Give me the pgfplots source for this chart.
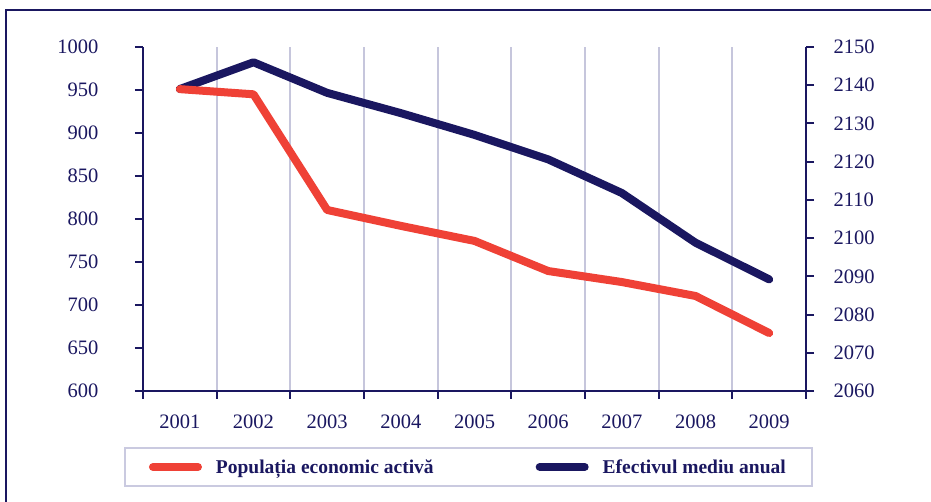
\documentclass[border=0pt]{standalone}
\usepackage{fontspec}
\setmainfont{Liberation Serif}
\usepackage{pgfplots}
\pgfplotsset{compat=1.18}

\definecolor{navy}{HTML}{1A1760}
\definecolor{redline}{HTML}{EF4136}
\definecolor{gridc}{HTML}{C6C6DC}
\definecolor{legbox}{HTML}{CACAE0}

\pgfplotsset{
  common/.style={
    width=663pt, height=344pt, scale only axis,
    xmin=0, xmax=9,
    axis line style={line width=2.5pt, navy},
    tick align=outside, major tick length=8pt,
    tick style={line width=2pt, navy},
    tick label style={font=\fontsize{20.5}{24}\selectfont, text=navy},
    /pgf/number format/assume math mode=true,
    /pgf/number format/1000 sep={},
  }
}

\begin{document}
\begin{tikzpicture}
% right axis (Efectivul mediu anual) + vertical grid
\begin{axis}[common,
    axis y line*=right, axis x line*=bottom,
    ymin=2060, ymax=2150, ytick={2060,2070,...,2150},
    xtick={1,...,8}, xticklabels={}, xtick style={draw=none},
    xmajorgrids, major grid style={gridc, line width=2pt},
    yticklabel style={xshift=16pt}]
\addplot[navy, line width=8pt, line cap=round, line join=round] coordinates {
  (0.5,2139) (1.5,2146) (2.5,2138) (3.5,2132.7) (4.5,2127)
  (5.5,2120.6) (6.5,2111.8) (7.5,2098.8) (8.5,2089.2)
};
\end{axis}

% left axis (Populatia economic activa)
\begin{axis}[common,
    axis y line*=left, axis x line*=bottom,
    ymin=600, ymax=1000, ytick={600,650,...,1000},
    xtick={0,...,9}, xticklabels={},
    extra x ticks={0.5,1.5,2.5,3.5,4.5,5.5,6.5,7.5,8.5},
    extra x tick labels={2001,2002,2003,2004,2005,2006,2007,2008,2009},
    extra x tick style={tick style={draw=none}},
    xticklabel style={yshift=-12pt},
    yticklabel style={xshift=-33pt},
    legend image code/.code={\draw[#1] (0pt,0pt) -- (45pt,0pt);},
    legend cell align=left,
    legend style={at={(-0.0287,-0.2209)}, anchor=west, draw=legbox,
      line width=2pt, legend columns=2,
      font=\bfseries\fontsize{19.5}{23}\selectfont, text=navy,
      inner xsep=24pt, inner ysep=9pt, nodes={inner sep=2pt},
      /tikz/every odd column/.append style={column sep=12pt},
      /tikz/every even column/.append style={column sep=100pt}}]
\addplot[redline, line width=8pt, line cap=round, line join=round] coordinates {
  (0.5,951) (1.5,945) (2.5,810.5) (3.5,792) (4.5,774.5)
  (5.5,739.5) (6.5,726.7) (7.5,710.5) (8.5,667.4)
};
\addlegendentry{Populația economic activă}
\addlegendimage{navy, line width=8pt, line cap=round}
\addlegendentry{Efectivul mediu anual}
\end{axis}

% outer frame (only top and left edges are visible)
\draw[navy, line width=2pt] (-137pt,-140pt) -- (-137pt,381pt) -- (820pt,381pt);
\pgfresetboundingbox
\useasboundingbox (-143pt,-111pt) rectangle (788pt,391pt);
\end{tikzpicture}
\end{document}
